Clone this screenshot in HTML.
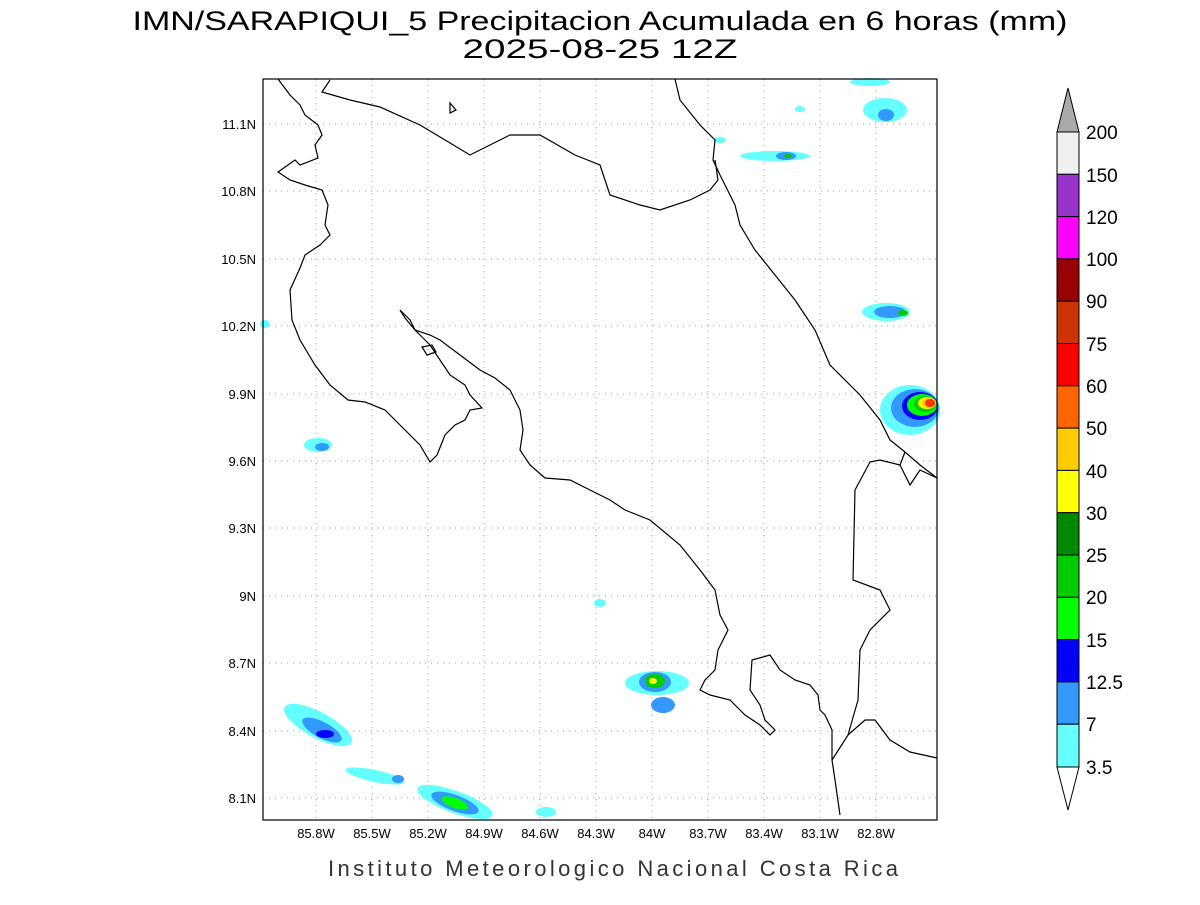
<!DOCTYPE html>
<html><head><meta charset="utf-8"><style>
body{margin:0;width:1200px;height:900px;background:#fff;overflow:hidden}
</style></head><body>
<svg width="1200" height="900" viewBox="0 0 1200 900" xmlns="http://www.w3.org/2000/svg" font-family="Liberation Sans, sans-serif">
<text x="600" y="30" text-anchor="middle" font-size="27" fill="#000" textLength="935" lengthAdjust="spacingAndGlyphs">IMN/SARAPIQUI_5 Precipitacion Acumulada en 6 horas (mm)</text>
<text x="600" y="58" text-anchor="middle" font-size="27" fill="#000" textLength="275" lengthAdjust="spacingAndGlyphs">2025-08-25 12Z</text>
<g stroke="#999" stroke-dasharray="1,5" stroke-width="1">
<line x1="316" y1="79" x2="316" y2="820"/><line x1="372" y1="79" x2="372" y2="820"/><line x1="428" y1="79" x2="428" y2="820"/><line x1="484" y1="79" x2="484" y2="820"/><line x1="540" y1="79" x2="540" y2="820"/><line x1="596" y1="79" x2="596" y2="820"/><line x1="652" y1="79" x2="652" y2="820"/><line x1="708" y1="79" x2="708" y2="820"/><line x1="764" y1="79" x2="764" y2="820"/><line x1="820" y1="79" x2="820" y2="820"/><line x1="876" y1="79" x2="876" y2="820"/>
<line x1="263" y1="124" x2="937" y2="124"/><line x1="263" y1="191" x2="937" y2="191"/><line x1="263" y1="259" x2="937" y2="259"/><line x1="263" y1="326" x2="937" y2="326"/><line x1="263" y1="394" x2="937" y2="394"/><line x1="263" y1="461" x2="937" y2="461"/><line x1="263" y1="528" x2="937" y2="528"/><line x1="263" y1="596" x2="937" y2="596"/><line x1="263" y1="663" x2="937" y2="663"/><line x1="263" y1="731" x2="937" y2="731"/><line x1="263" y1="798" x2="937" y2="798"/>
</g>
<g>
<ellipse cx="910" cy="410" rx="30" ry="25" fill="#66ffff"/><ellipse cx="915" cy="408" rx="24" ry="19" fill="#3399ff"/><ellipse cx="920" cy="406" rx="18" ry="14" fill="#0000ff"/><ellipse cx="922" cy="405" rx="15" ry="11" fill="#00ff00"/><ellipse cx="925" cy="404" rx="11" ry="8" fill="#00cc00"/><ellipse cx="927" cy="403" rx="9" ry="6" fill="#ffff00"/><ellipse cx="929" cy="403" rx="7" ry="5" fill="#ffcc00"/><ellipse cx="930" cy="403" rx="5" ry="4" fill="#ff3300"/>
<ellipse cx="886" cy="312" rx="24" ry="9" fill="#66ffff"/><ellipse cx="890" cy="312" rx="16" ry="6" fill="#3399ff"/><ellipse cx="903" cy="313" rx="5" ry="3" fill="#00cc00"/>
<ellipse cx="775" cy="156" rx="35" ry="5" fill="#66ffff"/><ellipse cx="786" cy="156" rx="10" ry="4" fill="#3399ff"/><ellipse cx="788" cy="156" rx="4" ry="2" fill="#00cc00"/>
<ellipse cx="885" cy="110" rx="22" ry="12" fill="#66ffff"/><ellipse cx="886" cy="115" rx="8" ry="6" fill="#3399ff"/>
<ellipse cx="870" cy="82" rx="20" ry="4" fill="#66ffff"/>
<ellipse cx="318" cy="445" rx="14" ry="7" fill="#66ffff"/><ellipse cx="322" cy="447" rx="7" ry="4" fill="#3399ff"/>
<ellipse cx="318" cy="725" rx="38" ry="13" fill="#66ffff" transform="rotate(28 318 725)"/><ellipse cx="322" cy="730" rx="22" ry="8" fill="#3399ff" transform="rotate(28 322 730)"/><ellipse cx="325" cy="734" rx="9" ry="4" fill="#0000ff"/>
<ellipse cx="375" cy="776" rx="30" ry="6" fill="#66ffff" transform="rotate(12 375 776)"/><ellipse cx="398" cy="779" rx="6" ry="4" fill="#3399ff"/>
<ellipse cx="455" cy="802" rx="40" ry="11" fill="#66ffff" transform="rotate(20 455 802)"/><ellipse cx="455" cy="803" rx="25" ry="8" fill="#3399ff" transform="rotate(20 455 803)"/><ellipse cx="455" cy="803" rx="14" ry="5" fill="#00ff00" transform="rotate(20 455 803)"/>
<ellipse cx="657" cy="683" rx="32" ry="12" fill="#66ffff"/><ellipse cx="655" cy="682" rx="16" ry="10" fill="#3399ff"/><ellipse cx="655" cy="681" rx="10" ry="7" fill="#00cc00"/><ellipse cx="653" cy="681" rx="4" ry="3" fill="#ffff00"/><ellipse cx="663" cy="705" rx="12" ry="8" fill="#3399ff"/>
<ellipse cx="600" cy="603" rx="6" ry="4" fill="#66ffff"/><ellipse cx="546" cy="812" rx="10" ry="5" fill="#66ffff"/><ellipse cx="265" cy="324" rx="5" ry="4" fill="#66ffff"/><ellipse cx="720" cy="140" rx="6" ry="3" fill="#66ffff"/><ellipse cx="800" cy="109" rx="5" ry="3" fill="#66ffff"/>
</g>
<g fill="none" stroke="#000" stroke-width="1.2">
<polyline points="278,79 290,95 300,105 305,115 318,125 322,135 315,145 318,158 300,165 295,160 278,172 290,180 305,185 322,190 328,205 325,225 330,235 320,245 305,255 300,268 290,290 292,320 300,340 315,365 330,385 348,400 365,402 385,410 400,425 420,445 430,462 437,455 445,435 455,425 465,420 470,410 482,408 470,395 465,385 450,375 440,360 430,345 415,330 405,318 400,310 410,320 415,330 430,335 440,340 460,355 480,370 495,378 510,390 520,410 523,430 520,450 530,465 545,478 570,480 590,490 610,500 625,510 650,520 680,545 700,570 715,590 720,615 728,630 718,650 715,670 705,680 700,690 710,695 730,700 745,715 760,725 770,735 775,730 765,720 760,705 750,690 752,660 770,655 780,670 795,680 810,685 818,695 820,710 825,715 832,730 832,760 835,780 840,815"/>
<polyline points="832,760 848,735 865,720 875,720 890,740 910,752 937,758"/>
<polyline points="675,79 680,100 700,125 715,140 713,160 720,175 735,205 740,225 755,250 775,275 795,300 815,330 830,365 860,395 880,420 890,440 905,452 920,465 937,478"/>
<polyline points="330,80 322,92 350,100 380,107 420,125 470,155 510,135 540,135 575,155 600,165 610,195 640,205 660,210 690,200 710,190 718,180 715,160"/>
<polyline points="905,452 900,465 910,485 920,470 937,478"/>
<polyline points="870,462 880,460 900,465"/>
<polyline points="870,462 855,490 853,580 880,590 890,610 870,630 860,650 858,700 848,735"/>
<polygon points="450,103 456,110 450,113"/>
<polygon points="422,347 432,345 436,352 427,355"/>
</g>
<rect x="263" y="79" width="674" height="741" fill="none" stroke="#000" stroke-width="1.2"/>
<g font-size="13" fill="#000" text-anchor="middle">
<text x="316" y="838">85.8W</text><text x="372" y="838">85.5W</text><text x="428" y="838">85.2W</text><text x="484" y="838">84.9W</text><text x="540" y="838">84.6W</text><text x="596" y="838">84.3W</text><text x="652" y="838">84W</text><text x="708" y="838">83.7W</text><text x="764" y="838">83.4W</text><text x="820" y="838">83.1W</text><text x="876" y="838">82.8W</text>
</g>
<g font-size="13" fill="#000" text-anchor="end">
<text x="256" y="129">11.1N</text><text x="256" y="196">10.8N</text><text x="256" y="264">10.5N</text><text x="256" y="331">10.2N</text><text x="256" y="399">9.9N</text><text x="256" y="466">9.6N</text><text x="256" y="533">9.3N</text><text x="256" y="601">9N</text><text x="256" y="668">8.7N</text><text x="256" y="736">8.4N</text><text x="256" y="803">8.1N</text>
</g>
<text x="613" y="876" text-anchor="middle" font-size="22" fill="#333" textLength="570" lengthAdjust="spacing">Instituto Meteorologico Nacional Costa Rica</text>
<g stroke="#000" stroke-width="1">
<polygon points="1057,132 1068,88 1079,132" fill="#aaaaaa"/>
<rect x="1057" y="132" width="22" height="42.3" fill="#f0f0f0"/>
<rect x="1057" y="174.3" width="22" height="42.3" fill="#9933cc"/>
<rect x="1057" y="216.6" width="22" height="42.3" fill="#ff00ff"/>
<rect x="1057" y="258.9" width="22" height="42.3" fill="#990000"/>
<rect x="1057" y="301.2" width="22" height="42.3" fill="#cc3300"/>
<rect x="1057" y="343.5" width="22" height="42.3" fill="#ff0000"/>
<rect x="1057" y="385.8" width="22" height="42.3" fill="#ff6600"/>
<rect x="1057" y="428.1" width="22" height="42.3" fill="#ffcc00"/>
<rect x="1057" y="470.4" width="22" height="42.3" fill="#ffff00"/>
<rect x="1057" y="512.7" width="22" height="42.3" fill="#008800"/>
<rect x="1057" y="555" width="22" height="42.3" fill="#00cc00"/>
<rect x="1057" y="597.3" width="22" height="42.3" fill="#00ff00"/>
<rect x="1057" y="639.6" width="22" height="42.3" fill="#0000ff"/>
<rect x="1057" y="681.9" width="22" height="42.3" fill="#3399ff"/>
<rect x="1057" y="724.2" width="22" height="42.8" fill="#66ffff"/>
<polygon points="1057,767 1068,810 1079,767" fill="#ffffff"/>
</g>
<g font-size="19" fill="#000">
<text x="1086" y="139">200</text><text x="1086" y="182">150</text><text x="1086" y="224">120</text><text x="1086" y="266">100</text><text x="1086" y="308">90</text><text x="1086" y="351">75</text><text x="1086" y="393">60</text><text x="1086" y="435">50</text><text x="1086" y="478">40</text><text x="1086" y="520">30</text><text x="1086" y="562">25</text><text x="1086" y="604">20</text><text x="1086" y="647">15</text><text x="1086" y="689">12.5</text><text x="1086" y="731">7</text><text x="1086" y="774">3.5</text>
</g>
</svg>
</body></html>
